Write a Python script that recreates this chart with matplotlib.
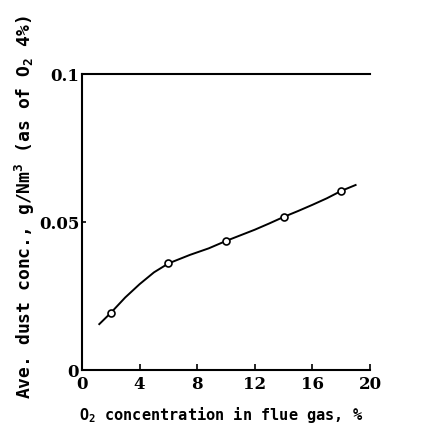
import numpy as np
import matplotlib
matplotlib.use("Agg")
import matplotlib.pyplot as plt

# --- Data ---
o2_points = [2, 6, 10, 14, 18]
dust_points = [0.0193, 0.0361, 0.0436, 0.0517, 0.0605]

# hand-drawn curve through the points, traced along its length
curve_x = [1.2, 2.0, 3.0, 4.0, 5.0, 6.0, 7.5, 8.8, 10, 11, 12, 13,
           14, 15, 16, 17, 18, 19]
curve_y = [0.0155, 0.0193, 0.0245, 0.0290, 0.0330, 0.0360, 0.0389, 0.0411,
           0.0436, 0.0455, 0.0474, 0.0495, 0.0517, 0.0537, 0.0558, 0.0580,
           0.0605, 0.0625]

x_ticks = [0, 4, 8, 12, 16, 20]
y_ticks = [0, 0.05, 0.1]
y_ticklabels = ["0", "0.05", "0.1"]

# --- Style ---
plt.rcParams['mathtext.default'] = 'regular'
mono = dict(family='DejaVu Sans Mono', weight='bold', size=11)
tickfont = dict(family='DejaVu Serif', weight='bold', size=12)

fig = plt.figure(figsize=(4.39, 4.32), dpi=100)
ax = fig.add_axes([0.1868, 0.1435, 0.656, 0.6852])

ax.plot(curve_x, curve_y, color='black', lw=1.4, zorder=2)
ax.plot(o2_points, dust_points, 'o', ms=5, mfc='white', mec='black',
        mew=1.2, zorder=3)

ax.set_xlim(0, 20)
ax.set_ylim(0, 0.1)
ax.set_xticks(x_ticks)
ax.set_yticks(y_ticks)
ax.set_yticklabels(y_ticklabels, fontdict=tickfont)
ax.set_xticklabels([str(t) for t in x_ticks], fontdict=tickfont)
ax.tick_params(direction='in', length=4, width=1.2, pad=4)
ax.tick_params(axis='y', length=3, pad=2)

ax.spines['right'].set_visible(False)
for s in ['left', 'top', 'bottom']:
    ax.spines[s].set_linewidth(1.5)

ax.set_xlabel("O$_2$ concentration in flue gas, %", fontdict=mono)
ax.xaxis.set_label_coords(0.483, -0.118)
ax.set_ylabel("Ave. dust conc., g/Nm$^3$ (as of O$_2$ 4%)",
              family='DejaVu Sans Mono', weight='bold', size=13)
ax.yaxis.set_label_coords(-0.155, 0.55)

fig.savefig("out.png", dpi=100)
